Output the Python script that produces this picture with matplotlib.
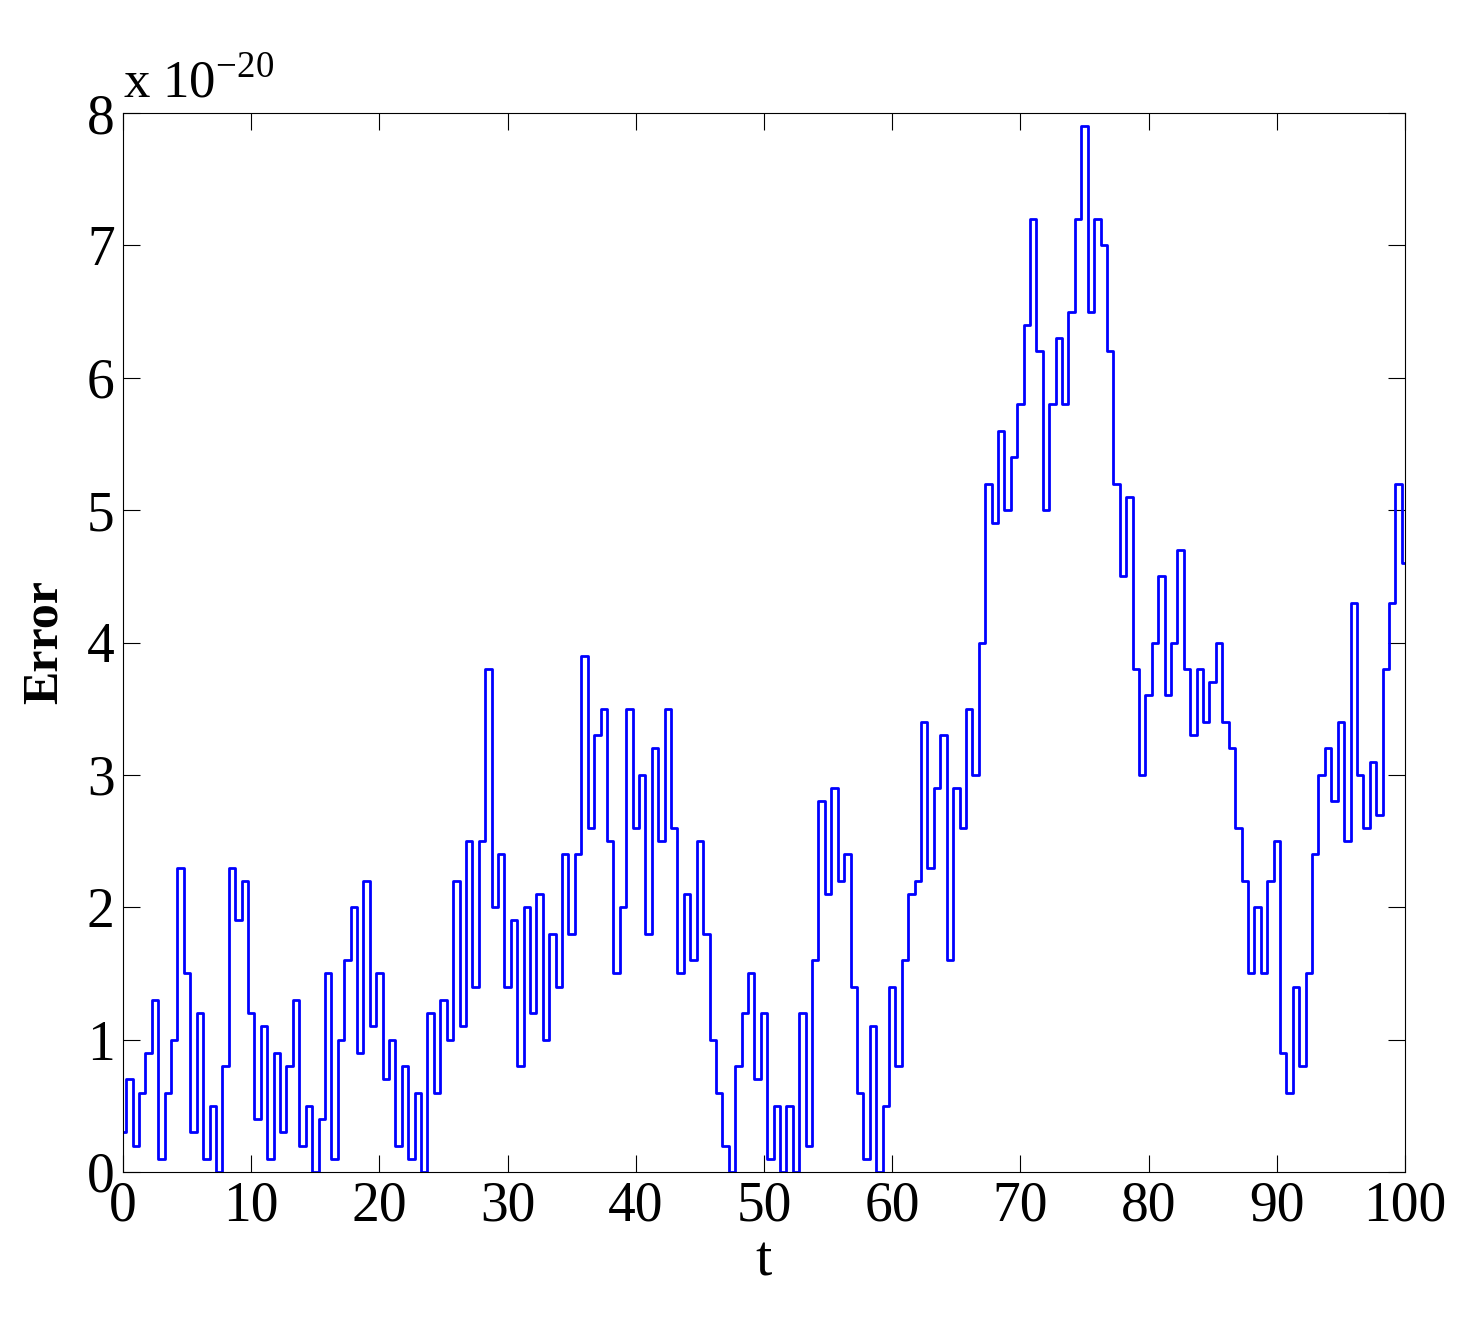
import numpy as np
import matplotlib
matplotlib.use('Agg')
import matplotlib.pyplot as plt

plt.rcParams['font.family'] = ['Liberation Serif', 'DejaVu Serif']

# error values (units of 1e-20), sampled every 0.5 in t
err = [0.3, 0.7, 0.2, 0.6, 0.9, 1.3, 0.1, 0.6, 1.0, 2.3, 1.5, 0.3, 1.2, 0.1, 0.5, 0.0,
       0.8, 2.3, 1.9, 2.2, 1.2, 0.4, 1.1, 0.1, 0.9, 0.3, 0.8, 1.3, 0.2, 0.5, 0.0, 0.4,
       1.5, 0.1, 1.0, 1.6, 2.0, 0.9, 2.2, 1.1, 1.5, 0.7, 1.0, 0.2, 0.8, 0.1, 0.6, 0.0,
       1.2, 0.6, 1.3, 1.0, 2.2, 1.1, 2.5, 1.4, 2.5, 3.8, 2.0, 2.4, 1.4, 1.9, 0.8, 2.0,
       1.2, 2.1, 1.0, 1.8, 1.4, 2.4, 1.8, 2.4, 3.9, 2.6, 3.3, 3.5, 2.5, 1.5, 2.0, 3.5,
       2.6, 3.0, 1.8, 3.2, 2.5, 3.5, 2.6, 1.5, 2.1, 1.6, 2.5, 1.8, 1.0, 0.6, 0.2, 0.0,
       0.8, 1.2, 1.5, 0.7, 1.2, 0.1, 0.5, 0.0, 0.5, 0.0, 1.2, 0.2, 1.6, 2.8, 2.1, 2.9,
       2.2, 2.4, 1.4, 0.6, 0.1, 1.1, 0.0, 0.5, 1.4, 0.8, 1.6, 2.1, 2.2, 3.4, 2.3, 2.9,
       3.3, 1.6, 2.9, 2.6, 3.5, 3.0, 4.0, 5.2, 4.9, 5.6, 5.0, 5.4, 5.8, 6.4, 7.2, 6.2,
       5.0, 5.8, 6.3, 5.8, 6.5, 7.2, 7.9, 6.5, 7.2, 7.0, 6.2, 5.2, 4.5, 5.1, 3.8, 3.0,
       3.6, 4.0, 4.5, 3.6, 4.0, 4.7, 3.8, 3.3, 3.8, 3.4, 3.7, 4.0, 3.4, 3.2, 2.6, 2.2,
       1.5, 2.0, 1.5, 2.2, 2.5, 0.9, 0.6, 1.4, 0.8, 1.5, 2.4, 3.0, 3.2, 2.8, 3.4, 2.5,
       4.3, 3.0, 2.6, 3.1, 2.7, 3.8, 4.3, 5.2, 4.6]
t = np.linspace(0, 100, len(err))

fig = plt.figure(figsize=(14.73, 13.31), dpi=100)
ax = fig.add_axes([123/1473, 1 - 1172/1331, 1282/1473, 1059/1331])
ax.plot(t, err, color='#0000ff', lw=2, drawstyle='steps-mid')
ax.set_xlim(0, 100)
ax.set_ylim(0, 8)
ax.set_xticks(range(0, 101, 10))
ax.set_yticks(range(0, 9))
ax.tick_params(direction='in', length=12, labelsize=40, top=True, right=True, pad=6)
ax.set_xlabel('t', fontsize=42, labelpad=2)
ax.set_ylabel('Error', fontsize=36, fontweight='bold', labelpad=14)
ax.text(0, 1.005, r'x 10$^{\mathregular{-20}}$', transform=ax.transAxes, fontsize=38, va='bottom')
fig.savefig('out.png')
